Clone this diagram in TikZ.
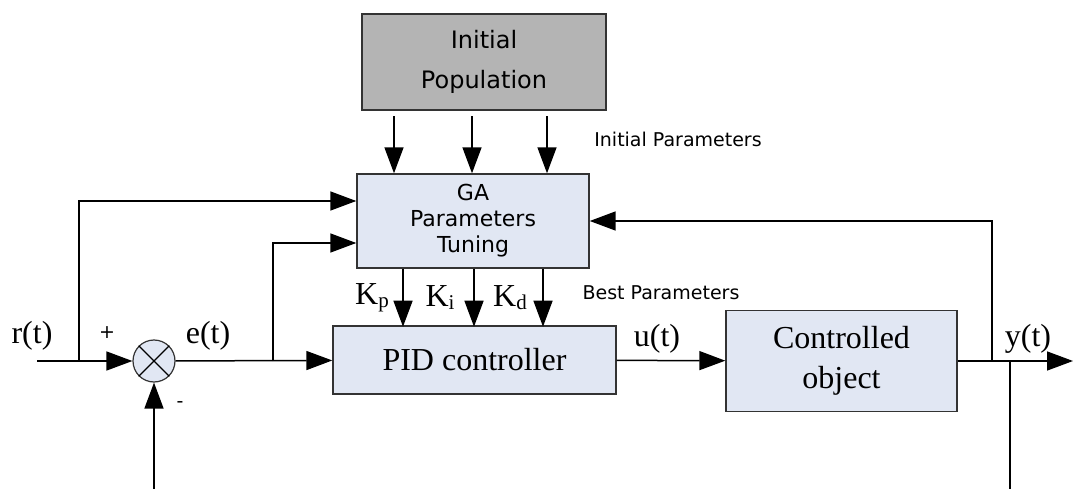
\documentclass[tikz,border=0pt]{standalone}
\usepackage{fontspec}
\setmainfont{Liberation Serif}
\newfontfamily\gafont{DejaVu Sans}
\usetikzlibrary{arrows.meta}

\begin{document}
\begin{tikzpicture}[x=1pt,y=-1pt,
  blk/.style={draw=black!80,line width=1.4pt,fill=boxblue,inner sep=0pt,align=center},
  wire/.style={line width=1.5pt},
  arr/.style={wire,-{Triangle[length=26pt,width=19pt]}},
  lbl/.style={font=\fontsize{32}{32}\selectfont,inner sep=0pt},
  note/.style={font=\gafont\fontsize{19}{19}\selectfont,inner sep=0pt}]
\definecolor{boxblue}{HTML}{E1E7F3}
\definecolor{popgray}{HTML}{B4B4B4}
\useasboundingbox (0,0) rectangle (1073,489);

\node[blk,fill=popgray,minimum width=244pt,minimum height=96pt,font=\gafont\fontsize{24}{40}\selectfont] (pop) at (484,62) {Initial\\Population};
\node[blk,minimum width=232pt,minimum height=94pt,font=\gafont\fontsize{22}{26}\selectfont] (ga) at (473,221) {GA\\Parameters\\Tuning};
\node[blk,minimum width=283pt,minimum height=68pt,font=\fontsize{32}{32}\selectfont] (pid) at (474.5,360) {PID controller};
\node[blk,minimum width=231pt,minimum height=101pt,font=\fontsize{32}{40}\selectfont] (ctrl) at (841.5,361) {Controlled\\object};
\node[circle,draw=black!80,line width=1.2pt,fill=boxblue,minimum size=42pt,inner sep=0pt] (sum) at (154,361) {};
\draw[line width=1.2pt] (sum.north west) -- (sum.south east) (sum.north east) -- (sum.south west);

\coordinate (rin) at (37,361);
\coordinate (rbr) at (79,361);
\coordinate (ebr) at (273,361);
\coordinate (fbot) at (154,489);
\coordinate (ybr) at (992,361);
\coordinate (ytap) at (1010,361);
\coordinate (ybot) at (1010,489);
\coordinate (yout) at (1073,361);

\node[lbl] (rlbl) at (32,336) {r(t)};
\node[lbl] (elbl) at (208,336) {e(t)};
\node[lbl] (ulbl) at (657,339) {u(t)};
\node[lbl] (ylbl) at (1028,339) {y(t)};
\node[note] (plus) at (107,333) {+};
\node[note] (minus) at (180,405) {-};
\node[lbl] (kp) at (372,298) {K\raisebox{-3pt}{\fontsize{21}{21}\selectfont p}};
\node[lbl] (ki) at (440,298) {K\raisebox{-3pt}{\fontsize{21}{21}\selectfont i}};
\node[lbl] (kd) at (510,298) {K\raisebox{-3pt}{\fontsize{21}{21}\selectfont d}};
\node[note] (initp) at (678,139) {Initial Parameters};
\node[note] (bestp) at (661,293) {Best Parameters};

\foreach \d in {-79,-1,74}
  \draw[arr] ([xshift=\d pt]ga.north) ++(0,-57) -- ([xshift=\d pt]ga.north);
\foreach \d in {-70,1,70}
  \draw[arr] ([xshift=\d pt]ga.south) -- ++(0,58);

\draw[arr] (rin) -- (sum);
\draw[arr] (rbr) |- ([yshift=20pt]ga.west);
\draw[arr] (fbot) -- (sum);
\draw[arr] (sum) -- (pid);
\draw[arr] (ebr) |- ([yshift=-22pt]ga.west);
\draw[arr] (pid) -- (ctrl);
\draw[arr] (ctrl) -- (yout);
\draw[arr] (ybr) |- (ga.east);
\draw[wire] (ytap) -- (ybot);
\end{tikzpicture}
\end{document}
